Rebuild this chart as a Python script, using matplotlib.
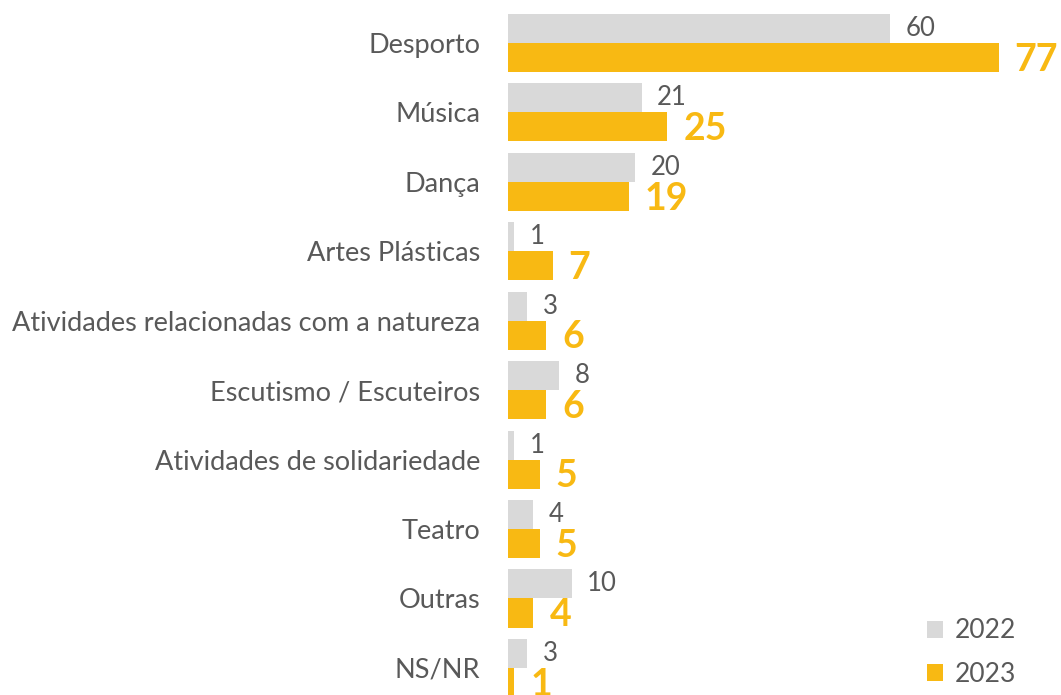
import numpy as np
import matplotlib
matplotlib.use("Agg")
import matplotlib.pyplot as plt

# Categories (top to bottom) and values per year
categories = ["Desporto", "Música", "Dança", "Artes Plásticas",
              "Atividades relacionadas com a natureza", "Escutismo / Escuteiros",
              "Atividades de solidariedade", "Teatro", "Outras", "NS/NR"]
v2022 = [60, 21, 20, 1, 3, 8, 1, 4, 10, 3]
v2023 = [77, 25, 19, 7, 6, 6, 5, 5, 4, 1]

grey = "#D9D9D9"
gold = "#F8B913"
txt = "#595959"

plt.rcParams['font.family'] = ['Lato', 'DejaVu Sans']

fig = plt.figure(figsize=(10.61, 6.95), dpi=100)
ax = fig.add_axes([508 / 1061, 0, 553 / 1061, 1])

y = np.arange(len(categories))
h = 0.418
ax.barh(y - h / 2, v2022, height=h, color=grey, label="2022")
ax.barh(y + h / 2, v2023, height=h, color=gold, label="2023")

ax.set_xlim(0, 86.8)
ax.set_ylim(9.39, -0.62)

# value labels
for i in range(len(categories)):
    ax.text(v2022[i] + 2.4, y[i] - h / 2, str(v2022[i]), color=txt,
            fontsize=18.5, va="center", ha="left")
    ax.text(v2023[i] + 2.5, y[i] + h / 2 + 0.03, str(v2023[i]), color=gold,
            fontsize=27, fontweight="bold", va="center", ha="left")

ax.set_yticks(y)
ax.set_yticklabels(categories, fontsize=19.5, color=txt)
ax.tick_params(axis="y", length=0, pad=20)
ax.set_xticks([])
for s in ax.spines.values():
    s.set_visible(False)

leg = ax.legend(loc="lower right", bbox_to_anchor=(0.952, -0.015), frameon=False,
                fontsize=19, handlelength=0.6, handleheight=0.6,
                handletextpad=0.45, labelspacing=0.7, borderpad=0.2)
for t in leg.get_texts():
    t.set_color(txt)

fig.savefig("out.png", dpi=100)
